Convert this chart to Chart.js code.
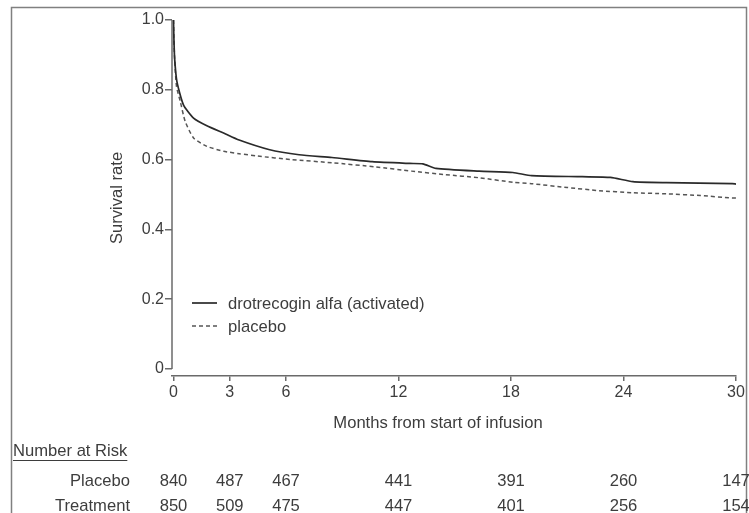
<!DOCTYPE html>
<html><head><meta charset="utf-8">
<script src="https://cdn.jsdelivr.net/npm/chart.js@4/dist/chart.umd.min.js"></script>
<style>html,body{margin:0;padding:0;background:#fff}</style>
</head><body><canvas id="c" width="749" height="513"></canvas>
<script>
const monthTicks = [0, 3, 6, 12, 18, 24, 30];
const survivalTicks = [0, 0.2, 0.4, 0.6, 0.8, 1.0];
const seriesLabels = ['drotrecogin alfa (activated)', 'placebo'];

const treatmentMonths   = [0, 0.02, 0.06, 0.18, 0.53, 1.07, 1.78, 2.67, 3.5, 5.08, 6.7, 8.45, 10.6, 12.6, 13.3, 14.0, 16.3, 18.1, 19.1, 21.8, 23.3, 24.5, 26.3, 29.8, 30];
const treatmentSurvival = [1.0, 0.95, 0.89, 0.824, 0.757, 0.719, 0.697, 0.676, 0.656, 0.629, 0.614, 0.606, 0.594, 0.589, 0.588, 0.575, 0.567, 0.563, 0.554, 0.551, 0.549, 0.537, 0.534, 0.531, 0.530];

const placeboMonths   = [0, 0.02, 0.06, 0.16, 0.36, 0.62, 1.07, 1.78, 2.67, 3.5, 4.5, 6.3, 8.45, 10.8, 12.7, 14.5, 16.3, 18.1, 19.1, 21, 22.7, 24.5, 26.3, 28.1, 29.8, 30];
const placeboSurvival = [1.0, 0.95, 0.89, 0.81, 0.767, 0.71, 0.662, 0.638, 0.624, 0.617, 0.61, 0.60, 0.591, 0.579, 0.567, 0.557, 0.548, 0.535, 0.531, 0.52, 0.511, 0.505, 0.502, 0.497, 0.49, 0.49];

const riskTitle = 'Number at Risk';
const riskRowLabels = ['Placebo', 'Treatment'];
const placeboAtRisk   = [840, 487, 467, 441, 391, 260, 147];
const treatmentAtRisk = [850, 509, 475, 447, 401, 256, 154];

const xTitle = 'Months from start of infusion';
const yTitle = 'Survival rate';

const FONT = '"Liberation Sans", Arial, sans-serif';
const FS = 16;
const FS2 = 16.6;
const TXT = '#3d3d3d';
const AX = '#6a6a6a';

function pts(xs, ys) { return xs.map((x, i) => ({ x: x, y: ys[i] })); }

const extras = {
  id: 'extras',
  afterDraw(chart) {
    const ctx = chart.ctx, xs = chart.scales.x, ys = chart.scales.y;
    ctx.save();
    // frame
    ctx.strokeStyle = '#808080'; ctx.lineWidth = 1.5;
    ctx.strokeRect(11.5, 7.5, 735, 530);
    // y axis line 0..1
    ctx.strokeStyle = AX; ctx.lineWidth = 1.5;
    const yl = chart.chartArea.left;
    ctx.beginPath(); ctx.moveTo(yl, ys.getPixelForValue(0)); ctx.lineTo(yl, ys.getPixelForValue(1)); ctx.stroke();
    // legend
    const ds = chart.data.datasets;
    ctx.font = FS2 + 'px ' + FONT; ctx.textBaseline = 'middle'; ctx.textAlign = 'left';
    ds.forEach((d, i) => {
      const y = 304 + i * 23;
      ctx.strokeStyle = d.borderColor; ctx.lineWidth = d.borderWidth;
      ctx.setLineDash(d.borderDash || []);
      ctx.beginPath(); ctx.moveTo(192, y - 1); ctx.lineTo(217, y - 1); ctx.stroke();
      ctx.setLineDash([]);
      ctx.fillStyle = TXT; ctx.fillText(d.label, 228, y);
    });
    // x title
    ctx.textAlign = 'center'; ctx.fillStyle = TXT;
    ctx.fillText(xTitle, 438, 423);
    // y title
    ctx.save(); ctx.translate(117, 198); ctx.rotate(-Math.PI / 2);
    ctx.fillText(yTitle, 0, 0); ctx.restore();
    // risk table
    ctx.textAlign = 'left';
    ctx.fillText(riskTitle, 13, 451);
    const w = ctx.measureText(riskTitle).width;
    ctx.strokeStyle = TXT; ctx.lineWidth = 1;
    ctx.beginPath(); ctx.moveTo(13, 460.5); ctx.lineTo(13 + w, 460.5); ctx.stroke();
    const rows = [placeboAtRisk, treatmentAtRisk];
    rows.forEach((r, ri) => {
      const y = 481 + ri * 25;
      ctx.textAlign = 'right'; ctx.fillText(riskRowLabels[ri], 130, y);
      ctx.textAlign = 'center';
      r.forEach((v, k) => ctx.fillText(String(v), xs.getPixelForValue(monthTicks[k]), y));
    });
    ctx.restore();
  }
};

new Chart(document.getElementById('c'), {
  type: 'line',
  data: {
    datasets: [
      { label: seriesLabels[0], data: pts(treatmentMonths, treatmentSurvival), borderColor: '#2a2a2a', borderWidth: 1.7, pointRadius: 0, tension: 0.2, fill: false },
      { label: seriesLabels[1], data: pts(placeboMonths, placeboSurvival), borderColor: '#555555', borderWidth: 1.5, borderDash: [4, 3], pointRadius: 0, tension: 0.2, fill: false }
    ]
  },
  options: {
    responsive: false, animation: false, devicePixelRatio: 1,
    layout: { padding: { left: 12, top: 20, right: 13, bottom: 0 } },
    plugins: { legend: { display: false }, tooltip: { enabled: false } },
    scales: {
      x: {
        type: 'linear', min: -0.08, max: 30,
        afterBuildTicks: s => { s.ticks = monthTicks.map(v => ({ value: v })); },
        afterFit: s => { s.height = 137; },
        grid: { display: true, drawOnChartArea: false, drawTicks: true, tickLength: 5, color: AX, lineWidth: 1.5 },
        border: { display: true, color: AX, width: 1.5 },
        ticks: { color: TXT, font: { family: FONT, size: FS }, padding: 2, maxRotation: 0, autoSkip: false }
      },
      y: {
        min: -0.02, max: 1.0,
        afterBuildTicks: s => { s.ticks = survivalTicks.map(v => ({ value: v })); },
        afterFit: s => { s.width = 160; },
        grid: { display: true, drawOnChartArea: false, drawTicks: true, tickLength: 7, color: AX, lineWidth: 1.5 },
        border: { display: false },
        ticks: { color: TXT, font: { family: FONT, size: FS }, padding: 1, autoSkip: false,
          callback: v => v === 0 ? '0' : Number(v).toFixed(1) }
      }
    }
  },
  plugins: [extras]
});
</script>
</body></html>
